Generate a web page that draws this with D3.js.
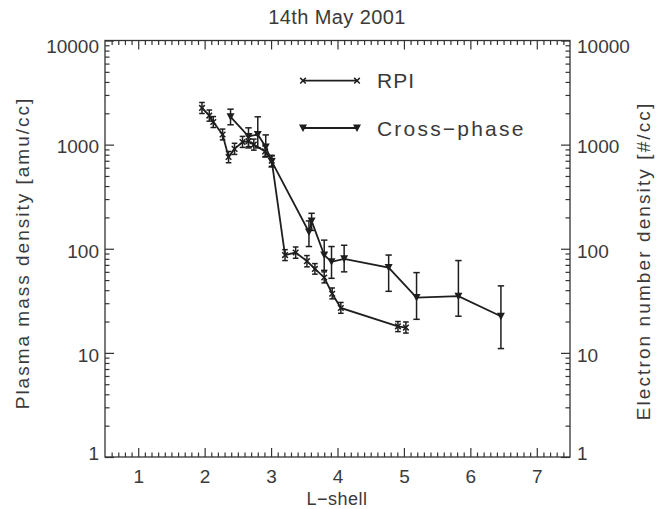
<!DOCTYPE html>
<html><head><meta charset="utf-8">
<script src="https://cdn.jsdelivr.net/npm/d3@7"></script>
<style>
body{margin:0;background:#fff;}
text{font-family:"Liberation Sans",Arial,Helvetica,sans-serif;fill:#3a3a3a;}
</style></head>
<body><svg id="c" width="664" height="509"></svg>
<script>
// ---- data ----
const title = "14th May 2001";
const xLabel = "L\u2212shell";
const yLabelLeft = "Plasma mass density [amu/cc]";
const yLabelRight = "Electron number density [#/cc]";
const xTicks = [1,2,3,4,5,6,7];
const yTicks = [1,10,100,1000,10000];
const seriesNames = ["RPI","Cross\u2212phase"];

const rpiL   = [1.96,2.07,2.13,2.27,2.36,2.45,2.57,2.66,2.74,2.91,3.01,3.21,3.37,3.54,3.66,3.80,3.92,4.05,4.91,5.03];
const rpiVal = [2250,1900,1650,1250,760,910,1060,1080,1000,860,700,87,92,76,64,53,37,27,18,17.5];
const rpiLo  = [1990,1680,1460,1110,670,805,940,955,885,760,620,77,81,67,57,47,33,24,16,15.5];
const rpiHi  = [2540,2150,1860,1410,860,1030,1200,1220,1130,970,790,98,104,86,72,60,42,30.5,20,19.8];

const cpL   = [2.39,2.66,2.80,2.92,3.01,3.57,3.61,3.80,3.91,4.10,4.77,5.19,5.82,6.46];
const cpVal = [1850,1200,1250,950,690,145,185,87,75,80,66,34,35,22.5];
const cpLo  = [1550,930,930,770,610,105,150,62,52,60,39,21,22.5,11];
const cpHi  = [2190,1450,1850,1240,780,185,219,121,105,108,87,59,77,44];

// ---- layout ----
const svg = d3.select("#c");
const L = 105, R = 570, T = 40.5, B = 457;
const x = d3.scaleLinear().domain([0.5,7.5]).range([L,R]);
const y = d3.scaleLog().domain([1,10000]).range([B,T]);
const axisColor = "#333", lineColor = "#1e1e1e";

const xMinor = d3.range(6,75).map(d=>d/10).filter(v=>Math.abs(v-Math.round(v))>1e-6);
const yMinor = [];
[1,10,100,1000].forEach(p=>{for(let k=2;k<=9;k++) yMinor.push(p*k);});

svg.append("rect").attr("x",L).attr("y",T).attr("width",R-L).attr("height",B-T)
  .attr("fill","none").attr("stroke",axisColor).attr("stroke-width",1.3);

function styleAxis(g){
  g.select(".domain").remove();
  g.selectAll(".tick line").attr("stroke",axisColor).attr("stroke-width",1.2);
  g.selectAll("text").style("font-size","19px").attr("fill","#3a3a3a");
}
// vertical label offset per tick (IDL pulls the end labels inward)
const yLabelDy = v => v===10000 ? 12.3 : (v===1 ? 2.8 : 8.3);

// major ticks with labels
svg.append("g").attr("transform",`translate(0,${B})`)
  .call(d3.axisBottom(x).tickValues(xTicks).tickSize(-9).tickPadding(13).tickFormat(d3.format("d")))
  .call(styleAxis);
svg.append("g").attr("transform",`translate(0,${T})`)
  .call(d3.axisTop(x).tickValues(xTicks).tickSize(-9).tickFormat(""))
  .call(styleAxis);
svg.append("g").attr("transform",`translate(${L},0)`)
  .call(d3.axisLeft(y).tickValues(yTicks).tickSize(-9).tickPadding(6).tickFormat(d3.format("d")))
  .call(styleAxis).selectAll("text").attr("dy",d=>yLabelDy(d)+"px");
svg.append("g").attr("transform",`translate(${R},0)`)
  .call(d3.axisRight(y).tickValues(yTicks).tickSize(-9).tickPadding(7).tickFormat(d3.format("d")))
  .call(styleAxis).selectAll("text").attr("dy",d=>yLabelDy(d)+"px");
// minor ticks
svg.append("g").attr("transform",`translate(0,${B})`).call(d3.axisBottom(x).tickValues(xMinor).tickSize(-4.5).tickFormat("")).call(styleAxis);
svg.append("g").attr("transform",`translate(0,${T})`).call(d3.axisTop(x).tickValues(xMinor).tickSize(-4.5).tickFormat("")).call(styleAxis);
svg.append("g").attr("transform",`translate(${L},0)`).call(d3.axisLeft(y).tickValues(yMinor).tickSize(-4.5).tickFormat("")).call(styleAxis);
svg.append("g").attr("transform",`translate(${R},0)`).call(d3.axisRight(y).tickValues(yMinor).tickSize(-4.5).tickFormat("")).call(styleAxis);

// titles
svg.append("text").attr("x",337).attr("y",24).attr("text-anchor","middle").style("font-size","20px").style("letter-spacing","0.4px").text(title);
svg.append("text").attr("x",337).attr("y",505).attr("text-anchor","middle").style("font-size","18px").style("letter-spacing","0.5px").text(xLabel);
svg.append("text").attr("transform","translate(29,253) rotate(-90)").attr("text-anchor","middle").style("font-size","19px").style("letter-spacing","2px").text(yLabelLeft);
svg.append("text").attr("transform","translate(650,261) rotate(-90)").attr("text-anchor","middle").style("font-size","19px").style("letter-spacing","2.1px").text(yLabelRight);

// ---- series ----
const line = d3.line().x(d=>x(d[0])).y(d=>y(d[1]));
function crossPath(cx,cy,s){return `M${cx-s},${cy-s}L${cx+s},${cy+s}M${cx-s},${cy+s}L${cx+s},${cy-s}`;}
function triPath(cx,cy){return `M${cx-4},${cy-3.5}L${cx+4},${cy-3.5}L${cx},${cy+4}Z`;}

function drawSeries(Ls,vals,lo,hi,cap,marker){
  const g = svg.append("g");
  g.append("path").datum(Ls.map((l,i)=>[l,vals[i]])).attr("d",line)
    .attr("fill","none").attr("stroke",lineColor).attr("stroke-width",1.8);
  Ls.forEach((l,i)=>{
    const cx = x(l);
    g.append("line").attr("x1",cx).attr("x2",cx).attr("y1",y(lo[i])).attr("y2",y(hi[i]))
      .attr("stroke",lineColor).attr("stroke-width",1.5);
    [lo[i],hi[i]].forEach(v=>g.append("line").attr("x1",cx-cap).attr("x2",cx+cap)
      .attr("y1",y(v)).attr("y2",y(v)).attr("stroke",lineColor).attr("stroke-width",1.5));
    if(marker==="x") g.append("path").attr("d",crossPath(cx,y(vals[i]),2.8)).attr("stroke",lineColor).attr("stroke-width",1.5);
    else g.append("path").attr("d",triPath(cx,y(vals[i]))).attr("fill",lineColor);
  });
}
drawSeries(rpiL,rpiVal,rpiLo,rpiHi,2.8,"x");
drawSeries(cpL,cpVal,cpLo,cpHi,3.2,"tri");

// ---- legend ----
const lg = svg.append("g");
const lx1 = 303, lx2 = 357;
[80.7,128].forEach((ly,i)=>{
  lg.append("line").attr("x1",lx1).attr("x2",lx2).attr("y1",ly).attr("y2",ly).attr("stroke",lineColor).attr("stroke-width",1.8);
  [lx1,lx2].forEach(px=>{
    if(i===0) lg.append("path").attr("d",crossPath(px,ly,2.8)).attr("stroke",lineColor).attr("stroke-width",1.5);
    else lg.append("path").attr("d",triPath(px,ly)).attr("fill",lineColor);
  });
  lg.append("text").attr("x",377).attr("y",ly+7.5).style("font-size","21px").style("letter-spacing",i===1?"2.2px":"1px").text(seriesNames[i]);
});
</script></body></html>
